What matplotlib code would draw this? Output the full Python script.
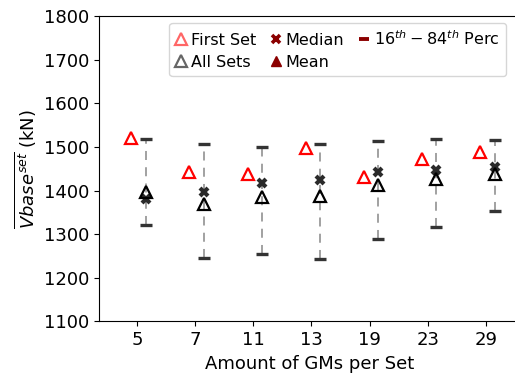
import numpy as np
import matplotlib
matplotlib.use("Agg")
import matplotlib.pyplot as plt
from matplotlib.lines import Line2D

# Amount of GMs per set (categorical)
gm_counts = ["5", "7", "11", "13", "19", "23", "29"]

# first-set value (red open triangle)
first_set = [1521, 1443, 1438, 1498, 1432, 1472, 1489]
# all-sets mean (black open triangle)
all_sets = [1396, 1370, 1385, 1388, 1413, 1427, 1438]
# median over sets
median = [1381, 1397, 1417, 1424, 1443, 1447, 1453]
# 16th / 84th percentiles
p16 = [1320, 1245, 1255, 1243, 1290, 1316, 1352]
p84 = [1518, 1506, 1501, 1506, 1513, 1518, 1516]

fig = plt.figure(figsize=(5.15, 3.78), dpi=100)
ax = fig.add_axes([0.193, 0.150, 0.818, 0.807])

x = np.arange(len(gm_counts))
xs = x + 0.15

ax.vlines(xs, p16, p84, colors="gray", linestyles=(0, (5, 4)), linewidth=1.3, alpha=0.8, zorder=1)
ax.plot(xs, p16, "_", color="#333333", markersize=8, mew=2.4, zorder=2)
ax.plot(xs, p84, "_", color="#333333", markersize=8, mew=2.4, zorder=2)
ax.plot(x - 0.1, first_set, "^", mfc="none", mec="red", markersize=8.5, mew=1.6, linestyle="none", zorder=3)
ax.plot(xs, median, "x", color="#2a2a2a", markersize=6, mew=3.0, linestyle="none", zorder=3)
ax.plot(xs, all_sets, "^", mfc="none", mec="black", markersize=8.5, mew=1.6, linestyle="none", zorder=4)

ax.set_xlim(-0.65, 6.6)
ax.set_ylim(1100, 1800)
ax.set_xticks(x)
ax.set_xticklabels(gm_counts)
ax.tick_params(axis="both", labelsize=13)
ax.tick_params(axis="y", right=True)
ax.set_xlabel("Amount of GMs per Set", fontsize=13)
ax.set_ylabel(r"$\overline{Vbase^{set}}$ (kN)", fontsize=13)

handles = [
    Line2D([], [], marker="^", mfc="none", mec="red", alpha=0.6, mew=1.6, markersize=8, linestyle="none"),
    Line2D([], [], marker="^", mfc="none", mec="black", alpha=0.6, mew=1.6, markersize=8, linestyle="none"),
    Line2D([], [], marker="x", color="#8b0000", mew=2.6, markersize=6, linestyle="none"),
    Line2D([], [], marker="^", color="#8b0000", markersize=7, linestyle="none"),
    Line2D([], [], marker="_", color="#8b0000", mew=2.8, markersize=7, linestyle="none"),
]
labels = ["First Set", "All Sets", "Median", "Mean", r"$16^{th}-84^{th}$ Perc"]
ax.legend(handles, labels, ncol=3, loc="upper right", fontsize=11.5,
          handlelength=0.7, handletextpad=0.25, columnspacing=0.9,
          labelspacing=0.45, borderaxespad=0.4, bbox_to_anchor=(0.98, 1.0))

fig.savefig("out.png", dpi=100)
